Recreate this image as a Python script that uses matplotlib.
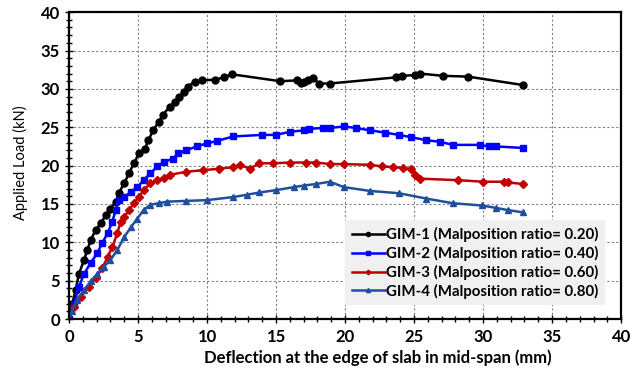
import matplotlib
matplotlib.use("Agg")
import matplotlib.pyplot as plt
from matplotlib.ticker import MultipleLocator

plt.rcParams['font.family'] = ['Lato', 'DejaVu Sans']

# GIM-1 (ratio 0.20)
x1 = [0, 0.24, 0.48, 0.72, 1.09, 1.33, 1.57, 1.93, 2.3, 2.66, 3.0, 3.4, 3.6, 4.0, 4.35,
      4.7, 5.07, 5.5, 5.75, 6.1, 6.5, 6.8, 7.3, 7.7, 8.0, 8.3, 8.6, 9.1, 9.6, 10.6, 11.2,
      11.8, 15.3, 16.5, 16.8, 17.0, 17.3, 17.7, 18.1, 18.9, 23.7, 24.1, 25.1, 25.4, 27.1,
      28.9, 32.9]
y1 = [0, 2.0, 3.8, 5.9, 7.7, 9.0, 10.3, 11.6, 12.5, 13.5, 14.4, 15.3, 16.4, 17.7, 19.0,
      20.3, 21.6, 22.2, 23.3, 24.6, 25.7, 26.6, 27.7, 28.3, 29.0, 29.6, 30.3, 30.9, 31.1,
      31.2, 31.5, 31.9, 31.0, 31.1, 30.8, 30.9, 31.1, 31.4, 30.7, 30.7, 31.5, 31.7, 31.8,
      32.0, 31.7, 31.6, 30.5]

# GIM-2 (ratio 0.40)
x2 = [0, 0.36, 0.72, 1.09, 1.57, 2.05, 2.4, 2.8, 3.14, 3.38, 3.6, 4.0, 4.5, 4.95, 5.4,
      5.9, 6.4, 6.9, 7.55, 7.9, 8.5, 9.25, 10.0, 10.7, 11.9, 14.0, 15.0, 16.0, 17.0, 17.4,
      18.4, 18.9, 19.9, 20.8, 21.8, 22.9, 23.9, 24.8, 25.9, 26.9, 27.8, 29.8, 30.4, 30.9,
      32.9]
y2 = [0, 2.0, 4.2, 5.9, 7.3, 8.6, 9.9, 11.2, 12.7, 14.2, 15.5, 15.9, 16.6, 17.2, 18.1,
      19.0, 19.9, 20.5, 20.9, 21.6, 22.0, 22.5, 22.9, 23.2, 23.8, 24.0, 24.0, 24.4, 24.6,
      24.8, 24.9, 24.9, 25.1, 24.9, 24.6, 24.3, 24.0, 23.7, 23.3, 23.1, 22.7, 22.7, 22.5,
      22.5, 22.3]

# GIM-3 (ratio 0.60)
x3 = [0, 0.36, 0.85, 1.45, 1.93, 2.4, 2.8, 3.14, 3.5, 3.74, 4.0, 4.35, 4.7, 5.07, 5.4,
      5.9, 6.4, 6.9, 7.3, 8.5, 9.7, 10.9, 11.9, 12.4, 13.1, 13.8, 14.8, 16.0, 17.2, 17.9,
      18.9, 19.9, 21.8, 22.7, 23.5, 24.2, 24.8, 25.1, 25.4, 28.2, 30.0, 31.5, 31.8, 32.9]
y3 = [0, 1.6, 2.9, 4.2, 5.3, 6.6, 8.1, 9.4, 11.2, 12.7, 13.3, 14.2, 15.1, 15.9, 16.8,
      17.7, 18.1, 18.4, 18.8, 19.2, 19.4, 19.6, 19.8, 20.1, 19.6, 20.3, 20.3, 20.4, 20.4,
      20.4, 20.2, 20.2, 20.1, 19.9, 19.8, 19.7, 19.5, 18.8, 18.3, 18.1, 17.9, 17.9, 17.8,
      17.6]

# GIM-4 (ratio 0.80)
x4 = [0, 0.2, 0.6, 1.09, 1.57, 2.05, 2.5, 3.0, 3.5, 4.0, 4.5, 4.95, 5.4, 5.9, 6.5, 7.1,
      8.5, 10.0, 11.9, 12.9, 13.8, 15.0, 16.3, 17.0, 17.9, 18.9, 19.9, 21.8, 23.9, 25.9,
      27.8, 29.9, 30.9, 31.8, 32.9]
y4 = [0, 1.0, 2.5, 3.8, 4.9, 5.9, 6.8, 7.7, 9.0, 10.7, 12.0, 13.1, 14.2, 14.9, 15.1, 15.3,
      15.4, 15.5, 15.9, 16.2, 16.5, 16.8, 17.2, 17.4, 17.6, 17.9, 17.2, 16.7, 16.4, 15.7,
      15.1, 14.8, 14.5, 14.2, 13.9]

labels = ["GIM-1 (Malposition ratio= 0.20)", "GIM-2 (Malposition ratio= 0.40)",
          "GIM-3 (Malposition ratio= 0.60)", "GIM-4 (Malposition ratio= 0.80)"]

fig = plt.figure(figsize=(6.39, 3.68), dpi=100)
ax = fig.add_axes([0.108, 0.133, 0.864, 0.834])

ax.plot(x1, y1, color="black", marker="o", ms=5, lw=1.8, label=labels[0])
ax.plot(x2, y2, color="#0000ff", marker="s", ms=4.5, lw=1.8, label=labels[1])
ax.plot(x3, y3, color="#c00000", marker="D", ms=4, lw=1.8, label=labels[2])
ax.plot(x4, y4, color="#1f4e9c", marker="^", ms=5, lw=1.8, label=labels[3])

ax.set_xlim(0, 40)
ax.set_ylim(0, 40)
ax.xaxis.set_major_locator(MultipleLocator(5))
ax.xaxis.set_minor_locator(MultipleLocator(1))
ax.yaxis.set_major_locator(MultipleLocator(5))
ax.yaxis.set_minor_locator(MultipleLocator(1))
ax.tick_params(which="both", direction="inout", length=6, width=1, labelsize=12)
ax.tick_params(which="minor", length=4)
ax.tick_params(axis="x", pad=4)
for lab in ax.get_xticklabels() + ax.get_yticklabels():
    lab.set_fontweight("bold")
ax.grid(True, which="major", linestyle=(0, (2, 2)), color="#808080", lw=0.8)
for s in ax.spines.values():
    s.set_linewidth(1.6)

ax.set_xlabel("Deflection at the edge of slab in mid-span (mm)", fontsize=12, fontweight="bold")
ax.xaxis.set_label_coords(0.56, -0.10)
ax.set_ylabel("Applied Load (kN)", fontsize=10.5)
ax.yaxis.set_label_coords(-0.074, 0.51)

leg = ax.legend(loc="lower right", bbox_to_anchor=(0.985, 0.02), frameon=True, fancybox=False,
                handlelength=2.2, handletextpad=0.1, markerscale=0.6, borderpad=0.45,
                labelspacing=0.25, prop={"weight": "bold", "size": 10.8})
leg.get_frame().set_facecolor("#f0f0f0")
leg.get_frame().set_edgecolor("none")
leg.get_frame().set_alpha(1)

fig.savefig("out.png", dpi=100)
